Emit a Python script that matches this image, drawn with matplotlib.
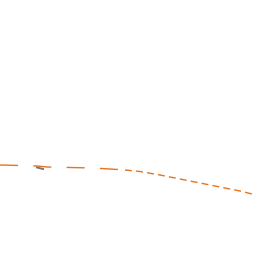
import matplotlib
matplotlib.use('Agg')
from matplotlib import pyplot as plt

# main series, first stretch (long dashes)
x_early = [0, 20, 37, 47, 70, 93, 110, 125]
y_early = [91, 90.5, 90, 89, 88.5, 88, 87, 86]

# main series, second stretch (short dashes)
x_late = [125, 140, 160, 180, 200, 220, 240, 256]
y_late = [86, 84.5, 81, 77, 73, 69, 65, 61]

# short grey piece
x_grey = [37, 43]
y_grey = [88.5, 87]

orange = '#e8731a'

fig = plt.figure(figsize=(2.56, 2.56), dpi=100)
ax = fig.add_axes([0, 0, 1, 1])

ax.plot(x_early, y_early, color=orange, linewidth=1.0, dashes=(13, 11))
ax.plot(x_late, y_late, color=orange, linewidth=1.0, dashes=(5, 3))
ax.plot(x_grey, y_grey, color='#777777', linewidth=1.4)

ax.set_xlim(0, 256)
ax.set_ylim(0, 256)
ax.axis('off')

fig.savefig('out.png', dpi=100)
